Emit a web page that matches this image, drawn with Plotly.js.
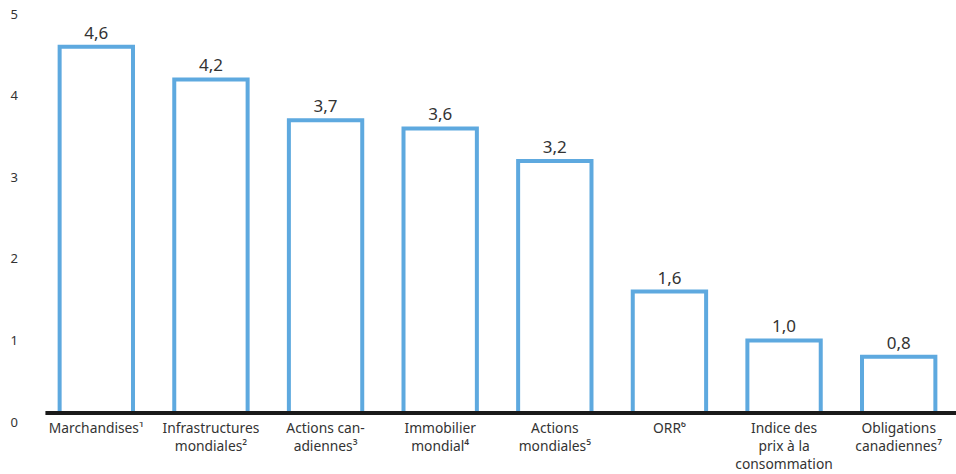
<!DOCTYPE html>
<html>
<head>
<meta charset="utf-8">
<script src="https://cdn.plot.ly/plotly-3.0.1.min.js"></script>
<style>html,body{margin:0;padding:0;background:#fff;}#chart{width:956px;height:474px;}</style>
</head>
<body>
<div id="chart"></div>
<script>
const categories = [
  "Marchandises¹",
  "Infrastructures<br>mondiales²",
  "Actions can-<br>adiennes³",
  "Immobilier<br>mondial⁴",
  "Actions<br>mondiales⁵",
  "ORR⁶",
  "Indice des<br>prix à la<br>consommation",
  "Obligations<br>canadiennes⁷"
];
const values = [4.6, 4.2, 3.7, 3.6, 3.2, 1.6, 1.0, 0.8];
const yTicks = [0, 1, 2, 3, 4, 5];

const barColor = "#5ea9df";
const textColor = "#333333";
const fontFam = "Noto Sans, Open Sans, sans-serif";

const trace = {
  type: "bar",
  x: categories,
  y: values,
  marker: {color: "#ffffff", line: {color: barColor, width: 4}},
  texttemplate: "%{y:.1f}",
  textposition: "outside",
  textfont: {family: fontFam, size: 17, color: textColor},
  cliponaxis: false,
  hoverinfo: "none"
};

const layout = {
  width: 956, height: 474,
  margin: {l: 39, r: 0, t: 2, b: 52},
  separators: ", ",
  paper_bgcolor: "#ffffff",
  plot_bgcolor: "#ffffff",
  bargap: 0.36,
  showlegend: false,
  font: {family: fontFam, color: textColor},
  xaxis: {
    type: "category",
    showgrid: false, zeroline: false, showline: false,
    ticks: "",
    ticklabelstandoff: -4,
    tickfont: {family: fontFam, size: 13.8, color: textColor},
    fixedrange: true
  },
  yaxis: {
    range: [0, 5.15],
    tickvals: yTicks,
    ticktext: yTicks.map(String),
    showgrid: false, zeroline: false, showline: false,
    ticks: "",
    ticklabelstandoff: 20,
    tickfont: {family: fontFam, size: 13, color: textColor},
    fixedrange: true
  },
  shapes: [
    {type: "rect", xref: "paper", yref: "y", x0: 0, x1: 1, y0: -0.01, y1: 0.1,
     fillcolor: "#ffffff", line: {width: 0}, layer: "above"},
    {type: "line", xref: "paper", yref: "y", x0: 0.007, x1: 1, y0: 0.11, y1: 0.11,
     line: {color: "#1a1a1a", width: 4}, layer: "above"}
  ]
};

Plotly.newPlot("chart", [trace], layout, {displayModeBar: false, staticPlot: true});
</script>
</body>
</html>
